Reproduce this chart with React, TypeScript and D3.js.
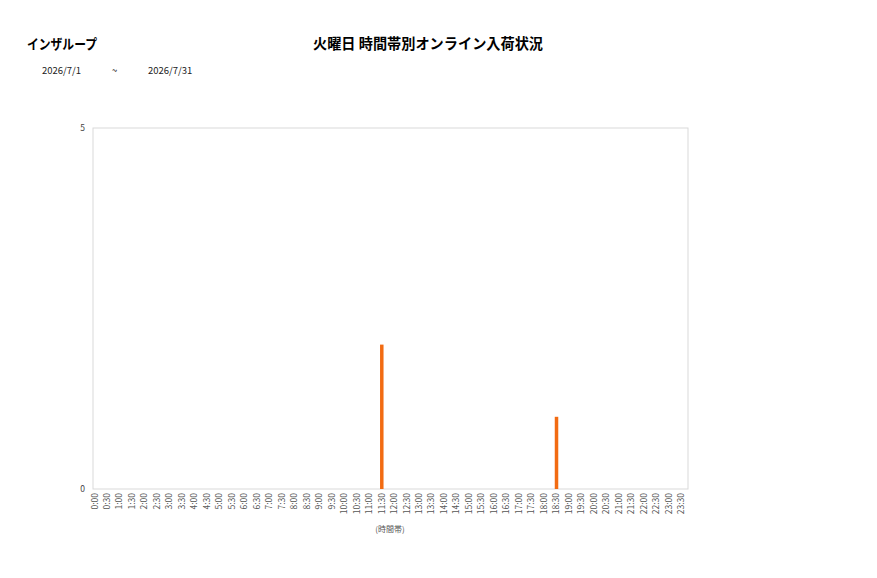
import React, { useEffect, useRef } from "react";
import * as d3 from "d3";

const shopName = "インザループ";
const chartTitle = "火曜日 時間帯別オンライン入荷状況";
const dateFrom = "2026/7/1";
const dateTo = "2026/7/31";

// 0:00 .. 23:30 in half-hour slots
const slots: string[] = [];
for (let h = 0; h < 24; h++) {
  slots.push(`${h}:00`);
  slots.push(`${h}:30`);
}
const arrivals: { slot: string; value: number }[] = [
  { slot: "11:30", value: 2 },
  { slot: "18:30", value: 1 },
];
const yTicks = [0, 5];

const Chart = () => {
  const ref = useRef<SVGSVGElement>(null);

  useEffect(() => {
    const svg = d3.select(ref.current);
    svg.selectAll("*").remove();

    const left = 93, right = 688, top = 128, bottom = 489;
    const font = "'Noto Sans CJK JP', 'Noto Sans', sans-serif";

    const x = d3.scalePoint().domain(slots).range([94.5, 94.5 + 47 * 12.48]);
    const y = d3.scaleLinear().domain([0, 5]).range([bottom, top]);

    svg.append("text").attr("x", 27).attr("y", 49).text(shopName)
      .attr("textLength", 70).attr("lengthAdjust", "spacingAndGlyphs")
      .attr("font-family", font).attr("font-size", 14).attr("font-weight", "bold").attr("fill", "#000");
    svg.append("text").attr("x", 313).attr("y", 49).text(chartTitle)
      .attr("textLength", 230).attr("lengthAdjust", "spacingAndGlyphs")
      .attr("font-family", font).attr("font-size", 14.5).attr("font-weight", "bold").attr("fill", "#000");

    const sub = svg.append("g").attr("font-family", font).attr("font-size", 9.5).attr("fill", "#222");
    sub.append("text").attr("x", 42).attr("y", 74).text(dateFrom);
    sub.append("text").attr("x", 112).attr("y", 74).text("~");
    sub.append("text").attr("x", 148).attr("y", 74).text(dateTo);

    svg.append("rect").attr("x", left).attr("y", top)
      .attr("width", right - left).attr("height", bottom - top)
      .attr("fill", "#fff").attr("stroke", "#d9d9d9").attr("stroke-width", 1);

    svg.append("g").selectAll("text").data(yTicks).join("text")
      .attr("x", 85).attr("y", (d) => y(d) + 3)
      .attr("text-anchor", "end")
      .attr("font-family", font).attr("font-size", 8.5).attr("fill", "#444")
      .text((d) => d);

    svg.append("g").selectAll("rect").data(arrivals).join("rect")
      .attr("x", (d) => (x(d.slot) as number) - 1.5)
      .attr("width", 3.5)
      .attr("y", (d) => y(d.value))
      .attr("height", (d) => bottom - y(d.value))
      .attr("fill", "#f26b12");

    svg.append("g").selectAll("text").data(slots).join("text")
      .attr("transform", (d) => `translate(${(x(d) as number) + 3},493) rotate(-90)`)
      .attr("text-anchor", "end")
      .attr("font-family", font).attr("font-size", 8.5).attr("fill", "#555")
      .text((d) => d);

    svg.append("text").attr("x", 390).attr("y", 532).attr("text-anchor", "middle")
      .attr("font-family", font).attr("font-size", 8).attr("fill", "#555").text("(時間帯)");
  }, []);

  return (
    <svg ref={ref} width={877} height={578}
      style={{ position: "absolute", left: 0, top: 0, background: "#fff" }} />
  );
};

export default function App() {
  return <Chart />;
}
